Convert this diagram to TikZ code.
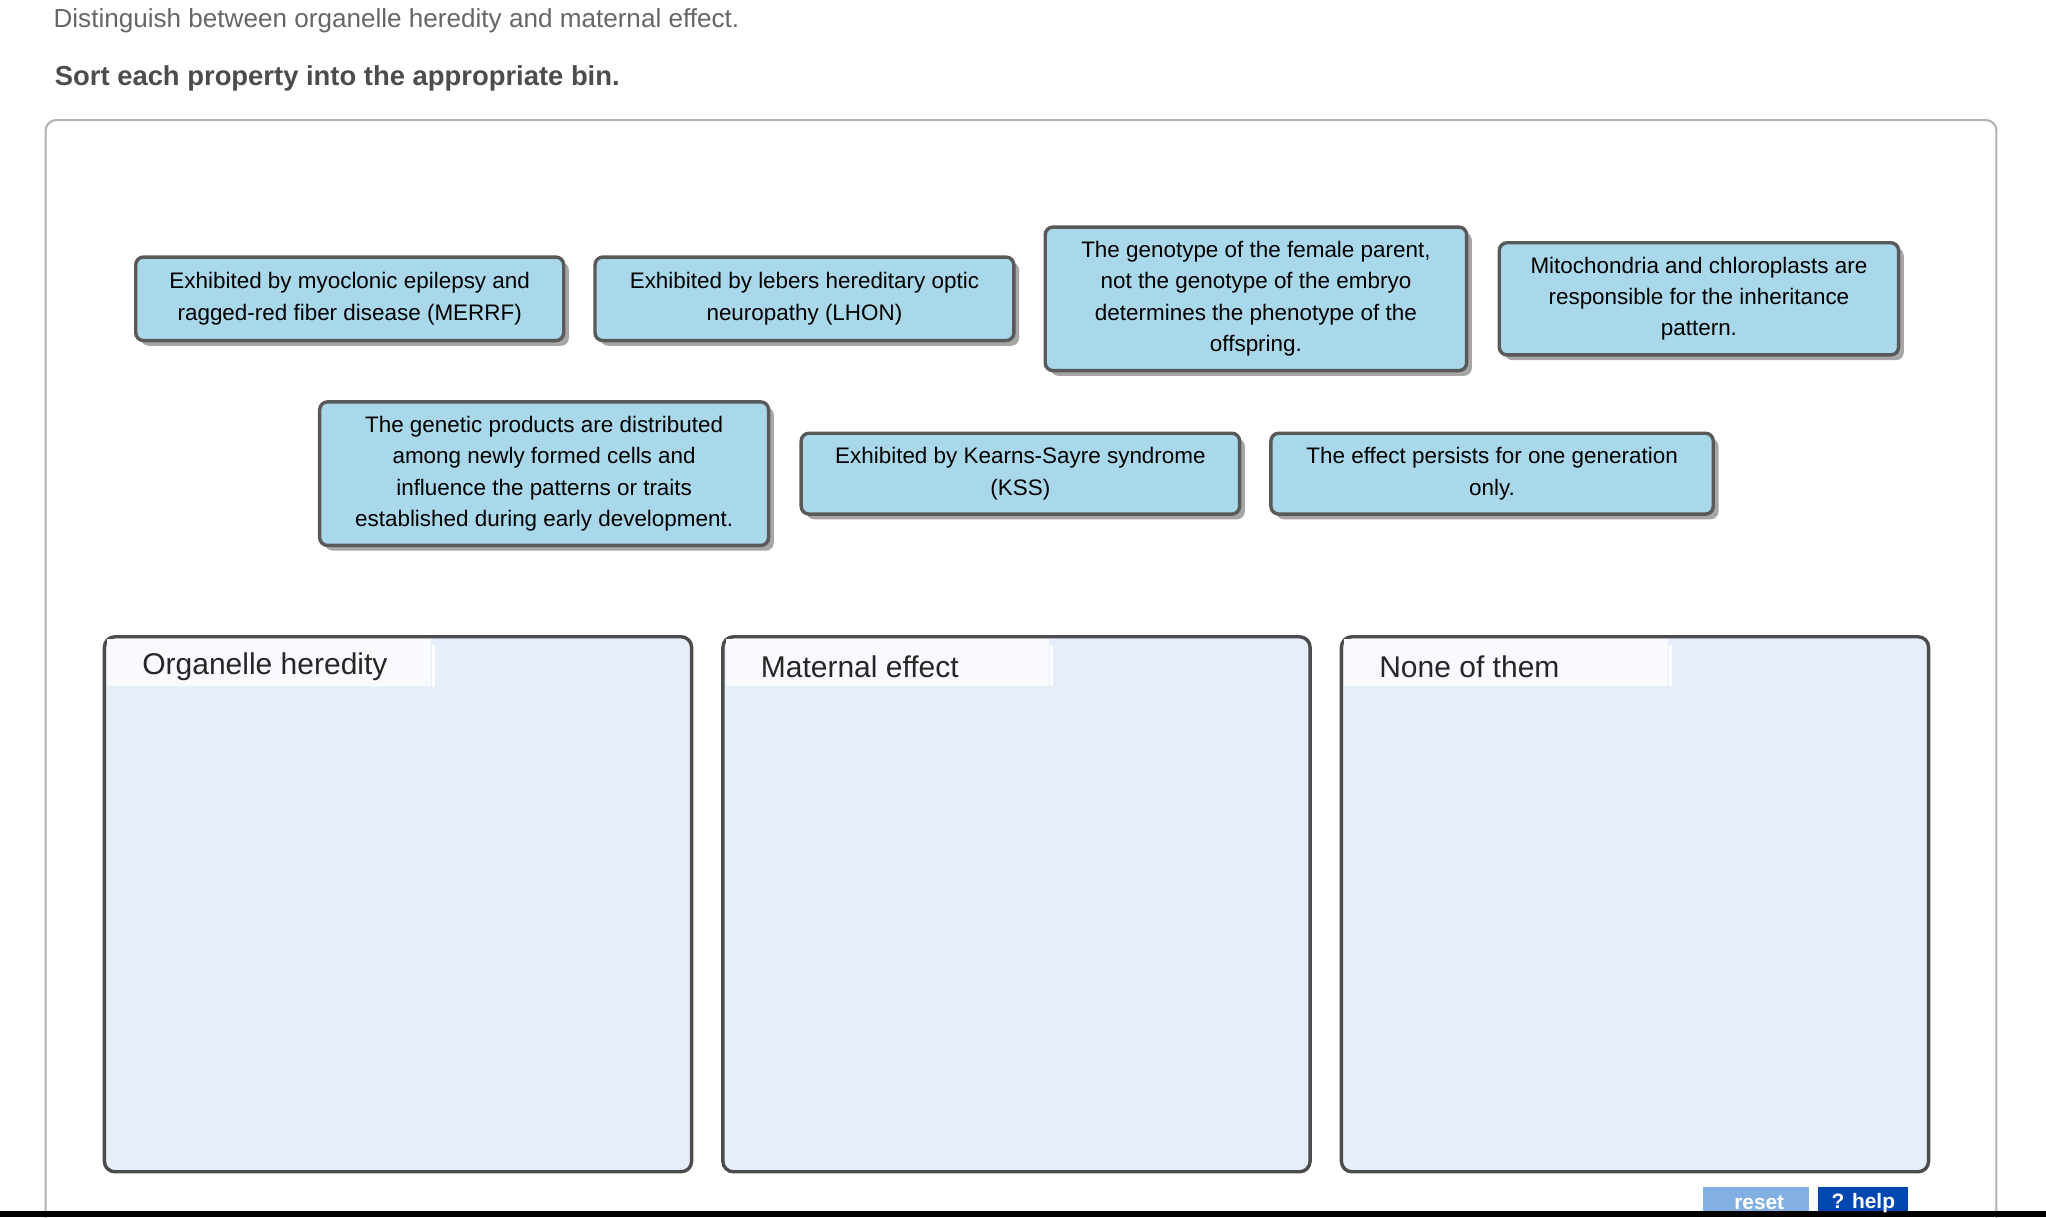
\documentclass[tikz,border=0pt]{standalone}
\usepackage{fontspec}
\setmainfont{Liberation Sans}
\begin{document}
\begin{tikzpicture}[x=0.5pt,y=-0.5pt,
 card/.style={draw=black!65,line width=1.3pt,fill=cyan!30!blue!10!white!72!cyan,rounded corners=3pt,align=center,font=\fontsize{8.6}{12}\selectfont,inner sep=0pt,drop shadow},
 bin/.style={draw=black!70,line width=1.3pt,fill=blue!9!white,rounded corners=4pt},
 binlab/.style={anchor=west,font=\fontsize{11.5}{13}\selectfont,text=black!85}]
\useasboundingbox (0,0) rectangle (1568,933);
\definecolor{cardc}{HTML}{A8D8EA}
\definecolor{binc}{HTML}{E6EEFC}
\node[anchor=west,text=black!60,font=\fontsize{10}{12}\selectfont] (t1) at (34,16) {Distinguish between organelle heredity and maternal effect.};
\node[anchor=west,text=black!70,font=\bfseries\fontsize{10.5}{12}\selectfont] (t2) at (35,60) {Sort each property into the appropriate bin.};
\draw[black!30,rounded corners=4pt,line width=0.8pt] (35,940) -- (35,92) -- (1530,92) -- (1530,940);
\foreach \a/\b/\c/\d/\n/\t in {
104/197/432/261/c1/{Exhibited by myoclonic epilepsy and\\ragged-red fiber disease (MERRF)},
456/197/777/261/c2/{Exhibited by lebers hereditary optic\\neuropathy (LHON)},
801/174/1124/284/c3/{The genotype of the female parent,\\not the genotype of the embryo\\determines the phenotype of the\\offspring.},
1149/186/1455/272/c4/{Mitochondria and chloroplasts are\\responsible for the inheritance\\pattern.},
245/308/589/418/c5/{The genetic products are distributed\\among newly formed cells and\\influence the patterns or traits\\established during early development.},
614/332/950/394/c6/{Exhibited by Kearns-Sayre syndrome\\(KSS)},
974/332/1313/394/c7/{The effect persists for one generation\\only.}}{
 \fill[black!35,rounded corners=3pt] (\a+4,\b+4) rectangle (\c+4,\d+4);
 \draw[draw=black!65,line width=1.3pt,fill=cardc,rounded corners=3pt] (\a,\b) rectangle (\c,\d);
 \node[align=center,font=\fontsize{8.6}{12}\selectfont] (\n) at ({(\a+\c)/2},{(\b+\d)/2}) {\t};
}
\foreach \a/\n/\t in {80/b1/Organelle heredity,554/b2/Maternal effect,1028/b3/None of them}{
 \draw[black!70,line width=1.3pt,fill=binc,rounded corners=4pt] (\a,488) rectangle (\a+450,898);
 \fill[white!70!binc] (\a+2,490) rectangle (\a+250,526);
 \draw[white,line width=1pt] (\a+252,494) -- (\a+252,526);
 \node[binlab] (\n) at (\a+22,511) {\t};
}
\fill[black] (0,928) rectangle (1568,933);
\fill[cyan!60!blue!50] (1305,910) rectangle (1386,928);
\fill[blue!60!cyan!70!black] (1393,910) rectangle (1462,928);
\node[font=\bfseries\fontsize{8}{9}\selectfont,text=white] (r) at (1346,922) {\ reset};
\node[font=\bfseries\fontsize{8}{9}\selectfont,text=white] (h) at (1428,922) {? help};
\end{tikzpicture}
\end{document}
